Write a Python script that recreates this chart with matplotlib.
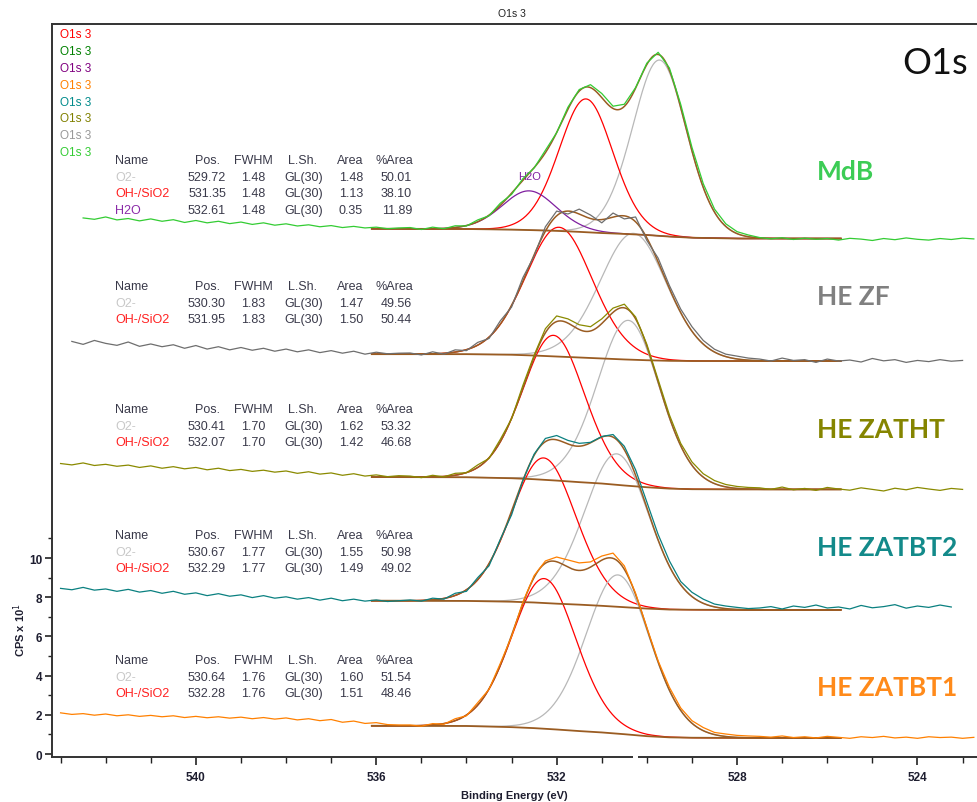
import numpy as np
import matplotlib.pyplot as plt
from matplotlib.patches import Rectangle

plt.rcParams['font.family'] = ['Liberation Sans', 'DejaVu Sans']

# raw spectra, counts (CPS x 10) on a 0.25 eV grid that starts at *_start
step = 0.25

zatbt1_start = 543.0
zatbt1_cps = [2.10, 2.02, 2.06, 1.98, 2.04, 1.95, 2.00, 1.92, 1.97, 1.90, 1.95, 1.86, 1.92, 1.85, 1.90, 1.83,
              1.88, 1.80, 1.86, 1.78, 1.84, 1.74, 1.80, 1.70, 1.76, 1.62, 1.68, 1.56, 1.60, 1.50, 1.48,
              1.48, 1.42, 1.55, 1.52, 1.80, 1.95, 2.62, 3.30, 4.62, 6.00, 7.75, 9.10, 9.85, 10.05, 9.90, 9.75,
              9.80, 10.10, 10.25, 9.60, 8.20, 6.45, 4.75, 3.40, 2.35, 1.70, 1.35, 1.10, 1.02, 0.95, 0.92,
              0.90, 0.86, 0.92, 0.84, 0.88, 0.82, 0.90, 0.85, 0.80, 0.88, 0.84, 0.90, 0.82, 0.86, 0.80, 0.88,
              0.84, 0.86, 0.80, 0.85]

zatbt2_start = 543.0
zatbt2_cps = [8.45, 8.38, 8.50, 8.36, 8.42, 8.30, 8.40, 8.26, 8.34, 8.20, 8.30, 8.15, 8.22, 8.08, 8.18, 8.05,
              8.12, 7.98, 8.08, 7.95, 8.02, 7.90, 7.98, 7.85, 7.95, 7.82, 7.90, 7.80, 7.86, 7.78, 7.82,
              7.86, 7.80, 7.95, 7.90, 8.20, 8.30, 9.00, 9.60, 10.95, 12.20, 13.95, 15.30, 16.10, 16.25, 16.00,
              15.85, 15.90, 16.20, 16.30, 15.70, 14.50, 12.85, 11.20, 9.85, 8.80, 8.25, 7.90, 7.65, 7.55, 7.48,
              7.42, 7.45, 7.52, 7.40, 7.55, 7.48, 7.60, 7.45, 7.50, 7.40, 7.58, 7.46, 7.52, 7.62, 7.44, 7.55,
              7.48, 7.60, 7.50]

zatht_start = 543.0
zatht_cps = [14.82, 14.75, 14.85, 14.72, 14.78, 14.68, 14.74, 14.62, 14.70, 14.58, 14.66, 14.55, 14.62, 14.50,
             14.58, 14.46, 14.52, 14.42, 14.48, 14.38, 14.44, 14.32, 14.40, 14.28, 14.34, 14.22, 14.30, 14.18,
             14.24, 14.15, 14.20,
             14.18, 14.10, 14.22, 14.14, 14.32, 14.35, 14.75, 15.08, 16.05, 17.10, 18.80, 20.35, 21.70, 22.35,
             22.20, 21.90, 21.80, 22.20, 22.75, 22.95, 22.30, 20.90, 19.10, 17.30, 15.85, 14.90, 14.30, 13.95,
             13.75, 13.65, 13.60,
             13.58, 13.50, 13.62, 13.48, 13.55, 13.45, 13.60, 13.52, 13.46, 13.58, 13.50, 13.42, 13.56, 13.48,
             13.60, 13.52, 13.45, 13.55, 13.50]

zf_start = 542.75
zf_cps = [21.05, 20.90, 21.10, 20.95, 20.85, 21.02, 20.80, 20.92, 20.78, 20.88, 20.70, 20.84, 20.66, 20.78,
          20.62, 20.74, 20.60, 20.70, 20.55, 20.66, 20.52, 20.62, 20.48, 20.58, 20.45, 20.55, 20.40, 20.50,
          20.42, 20.45,
          20.46, 20.36, 20.52, 20.40, 20.62, 20.58, 21.00, 21.20, 22.10, 22.80, 24.30, 25.40, 26.90, 27.70,
          27.55, 27.80, 27.50, 27.10, 27.60, 27.30, 27.40, 26.20, 25.30, 23.90, 22.70, 21.80, 21.10, 20.65,
          20.40, 20.30, 20.20,
          20.15, 20.05, 20.20, 20.08, 20.12, 19.98, 20.15, 20.05, 20.10, 20.00, 20.18, 20.06, 20.12, 19.98,
          20.08, 20.02, 20.12, 20.04, 20.08]

mdb_start = 542.5
mdb_cps = [27.35, 27.28, 27.40, 27.25, 27.32, 27.20, 27.30, 27.18, 27.26, 27.12, 27.22, 27.10, 27.18, 27.06,
           27.14, 27.02, 27.10, 26.98, 27.05, 26.94, 27.00, 26.90, 26.96, 26.86, 26.92, 26.84, 26.88, 26.80,
           26.84,
           26.86, 26.76, 26.88, 26.80, 26.95, 26.94, 27.25, 27.46, 28.10, 28.55, 29.35, 29.90, 30.80, 31.70,
           33.00, 33.90, 34.15, 33.70, 33.05, 33.15, 34.00, 35.25, 35.80, 35.00, 33.15, 30.95, 29.10, 27.80,
           27.05, 26.65, 26.48,
           26.35, 26.28, 26.34, 26.25, 26.32, 26.26, 26.30, 26.22, 26.31, 26.27, 26.20, 26.30, 26.24, 26.33,
           26.26, 26.22, 26.30, 26.25, 26.32, 26.28]

# background (Shirley) read at these energies
bg_energy = [536.1, 534.0, 533.0, 532.5, 532.0, 531.5, 531.0, 530.5, 530.0, 529.5, 529.0, 528.0, 525.7]
zatbt1_bg = [1.44, 1.43, 1.37, 1.32, 1.25, 1.17, 1.10, 1.01, 0.91, 0.85, 0.83, 0.82, 0.82]
zatbt2_bg = [7.82, 7.81, 7.77, 7.73, 7.67, 7.62, 7.56, 7.49, 7.42, 7.37, 7.36, 7.35, 7.35]
zatht_bg = [14.13, 14.12, 14.07, 14.02, 13.95, 13.87, 13.80, 13.70, 13.61, 13.54, 13.51, 13.50, 13.50]
zf_bg = [20.40, 20.40, 20.37, 20.33, 20.28, 20.23, 20.18, 20.13, 20.09, 20.06, 20.05, 20.05, 20.05]
mdb_bg = [26.80, 26.785, 26.755, 26.725, 26.69, 26.64, 26.58, 26.535, 26.48, 26.40, 26.34, 26.30, 26.30]

# fit tables (as printed) and component heights
headers = ['Name', 'Pos.', 'FWHM', 'L.Sh.', 'Area', '%Area']
mdb_names = ['O2-', 'OH-/SiO2', 'H2O']
mdb_pos = [529.72, 531.35, 532.61]
mdb_fwhm = [1.48, 1.48, 1.48]
mdb_area = [1.48, 1.13, 0.35]
mdb_pct = [50.01, 38.10, 11.89]
mdb_height = [8.97, 6.8, 2.0]

zf_names = ['O2-', 'OH-/SiO2']
zf_pos = [530.30, 531.95]
zf_fwhm = [1.83, 1.83]
zf_area = [1.47, 1.50]
zf_pct = [49.56, 50.44]
zf_height = [6.45, 6.6]

zatht_names = ['O2-', 'OH-/SiO2']
zatht_pos = [530.41, 532.07]
zatht_fwhm = [1.70, 1.70]
zatht_area = [1.62, 1.42]
zatht_pct = [53.32, 46.68]
zatht_height = [8.44, 7.4]

zatbt2_names = ['O2-', 'OH-/SiO2']
zatbt2_pos = [530.67, 532.29]
zatbt2_fwhm = [1.77, 1.77]
zatbt2_area = [1.55, 1.49]
zatbt2_pct = [50.98, 49.02]
zatbt2_height = [7.8, 7.4]

zatbt1_names = ['O2-', 'OH-/SiO2']
zatbt1_pos = [530.64, 532.28]
zatbt1_fwhm = [1.76, 1.76]
zatbt1_area = [1.60, 1.51]
zatbt1_pct = [51.54, 48.46]
zatbt1_height = [8.1, 7.66]

sample_labels = ['MdB', 'HE ZF', 'HE ZATHT', 'HE ZATBT2', 'HE ZATBT1']
sample_colors = ['#3ccc55', '#808080', '#858500', '#138a8a', '#ff8a1a']
data_colors = ['#33cc33', '#6e6e6e', '#8a8a00', '#0a8080', '#ff8000']
legend_colors = ['#ff0000', '#008000', '#800080', '#ff8000', '#008b8b', '#808000', '#999999', '#33cc33']
comp_colors = {'O2-': '#b8b8b8', 'OH-/SiO2': '#ff0000', 'H2O': '#7f1f9f'}
name_colors = {'O2-': '#c8c8c8', 'OH-/SiO2': '#ff2020', 'H2O': '#8a2aa8'}
env_color = '#9a5c22'
text_color = '#3a3a4a'


def gl(e, pos, fwhm, m=0.3):
    # CasaXPS GL(m) product lineshape
    x = (e - pos) / fwhm
    return np.exp(-4 * np.log(2) * (1 - m) * x ** 2) / (1 + 4 * m * x ** 2)


spectra = [
    (mdb_start, mdb_cps, mdb_bg, mdb_names, mdb_pos, mdb_fwhm, mdb_area, mdb_pct, mdb_height),
    (zf_start, zf_cps, zf_bg, zf_names, zf_pos, zf_fwhm, zf_area, zf_pct, zf_height),
    (zatht_start, zatht_cps, zatht_bg, zatht_names, zatht_pos, zatht_fwhm, zatht_area, zatht_pct, zatht_height),
    (zatbt2_start, zatbt2_cps, zatbt2_bg, zatbt2_names, zatbt2_pos, zatbt2_fwhm, zatbt2_area, zatbt2_pct,
     zatbt2_height),
    (zatbt1_start, zatbt1_cps, zatbt1_bg, zatbt1_names, zatbt1_pos, zatbt1_fwhm, zatbt1_area, zatbt1_pct,
     zatbt1_height),
]

W, H = 977, 803
fig = plt.figure(figsize=(W / 100, H / 100), dpi=100)
ax = fig.add_axes([52 / W, 1 - 758 / H, 1 - 52 / W, (758 - 25) / H])


def fx(x):
    return x / W


def fy(y):
    return 1 - y / H


e_fit = np.linspace(bg_energy[0], bg_energy[-1], 500)
label_y = [172, 297, 430, 548, 688]
table_y = [161, 287, 410, 536, 661]

for i, (start, cps, bg, names, pos, fwhm, area, pct, height) in enumerate(spectra):
    cps = np.array(cps)
    energy = start - step * np.arange(len(cps))
    bg_line = np.interp(e_fit[::-1], bg_energy[::-1], bg[::-1])[::-1]
    env = bg_line.copy()
    for name, p, f, h in zip(names, pos, fwhm, height):
        comp = h * gl(e_fit, p, f)
        env += comp
        ax.plot(e_fit, bg_line + comp, color=comp_colors[name], lw=0.9, zorder=2)
    ax.plot(bg_energy, bg, color=env_color, lw=1.3, zorder=3)
    ax.plot(e_fit, env, color=env_color, lw=1.1, zorder=3)
    ax.plot(energy, cps, color=data_colors[i], lw=0.9, zorder=4)

    # sample label on the right
    fig.text(fx(817), fy(label_y[i]), sample_labels[i], color=sample_colors[i], fontsize=19,
             fontweight='bold', family=['Lato', 'DejaVu Sans'], va='center', ha='left')

    # fit table
    ty = table_y[i]
    hx = [115, 220, 273, 317, 363, 413]
    for j, htxt in enumerate(headers):
        fig.text(fx(hx[j]), fy(ty), htxt, fontsize=9, color=text_color, va='center',
                 ha='left' if j == 0 else 'right')
    for k, name in enumerate(names):
        ry = ty + 16.7 * (k + 1)
        row = ['%.2f' % pos[k], '%.2f' % fwhm[k], 'GL(30)', '%.2f' % area[k], '%.2f' % pct[k]]
        fig.text(fx(115), fy(ry), name, fontsize=9, color=name_colors[name], va='center', ha='left')
        for cx, txt in zip([226, 265, 323, 363, 412], row):
            fig.text(fx(cx), fy(ry), txt, fontsize=9, color=text_color, va='center', ha='right')

ax.text(532.61, 29.5, 'H2O', color=comp_colors['H2O'], fontsize=8, ha='center', va='center')

# legend of the traces
for k, c in enumerate(legend_colors):
    fig.text(fx(60), fy(35 + 16.9 * k), 'O1s 3', color=c, fontsize=8.5, va='center', ha='left')

fig.text(fx(935), fy(63), 'O1s', fontsize=26, color='#111111', family=['Lato', 'DejaVu Sans'],
         ha='center', va='center')
fig.text(fx(512), fy(14), 'O1s 3', fontsize=7.5, color='#222222', ha='center', va='center')

ax.set_xlim(543.19, 522.68)
ax.set_ylim(-0.153, 37.245)
ax.set_xticks([540, 536, 532, 528, 524])
ax.set_xticklabels(['540', '536', '532', '528', '524'], fontweight='bold', fontsize=8.5, color='#1e1e30')
ax.set_xticks(np.arange(523, 544, 1), minor=True)
ax.set_yticks([0, 2, 4, 6, 8, 10])
ax.set_yticklabels(['0', '2', '4', '6', '8', '10'], fontweight='bold', fontsize=8.5, color='#1e1e30')
ax.set_yticks([1, 3, 5, 7, 9, 11], minor=True)
ax.tick_params(axis='x', which='major', length=6, width=1.2, pad=4, color='#222222')
ax.tick_params(axis='x', which='minor', length=4, width=1.0, color='#222222')
ax.tick_params(axis='y', which='major', length=5, width=1.2, pad=2, color='#222222')
ax.tick_params(axis='y', which='minor', length=3, width=1.0, color='#222222')

for s in ['left', 'top', 'bottom']:
    ax.spines[s].set_color('#333333')
    ax.spines[s].set_linewidth(1.4)
ax.spines['right'].set_visible(False)

# break in the energy axis
ax.add_patch(Rectangle(((633 - 52) / 925, -0.006), 5 / 925, 0.012, transform=ax.transAxes,
                       facecolor='white', edgecolor='none', clip_on=False, zorder=10))

ax.set_xlabel('Binding Energy (eV)', fontsize=8, fontweight='bold', color='#1e1e30', labelpad=5)
ax.set_ylabel('CPS x 10$^{1}$', fontsize=8, fontweight='bold', color='#1e1e30')
ax.yaxis.set_label_coords(-0.026, (758 - 630) / 733)

fig.savefig('out.png', dpi=100)
